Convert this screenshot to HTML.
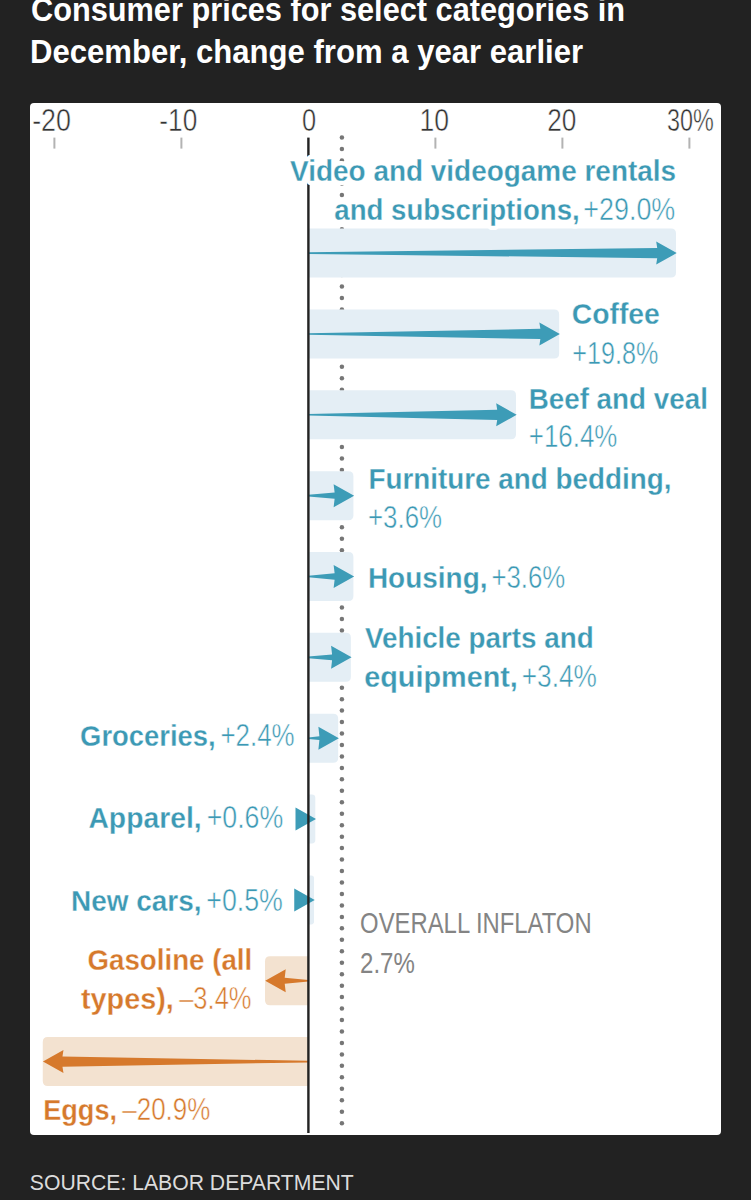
<!DOCTYPE html>
<html><head><meta charset="utf-8"><style>
html,body{margin:0;padding:0;background:#222222;width:751px;height:1200px;overflow:hidden}
svg{display:block;font-family:"Liberation Sans",sans-serif}

</style></head><body>
<svg width="751" height="1200" viewBox="0 0 751 1200">
<rect x="0" y="0" width="751" height="1200" fill="#222222"/>
<rect x="30" y="103" width="691" height="1032" rx="4" fill="#ffffff"/>
<text x="30.97" y="21.30" font-size="33.2" font-weight="700" textLength="594.09" lengthAdjust="spacingAndGlyphs" fill="#ffffff">Consumer prices for select categories in</text>
<text x="30.02" y="62.60" font-size="33.2" font-weight="700" textLength="553.11" lengthAdjust="spacingAndGlyphs" fill="#ffffff">December, change from a year earlier</text>
<text x="29.84" y="1189.80" font-size="21.8" font-weight="400" textLength="323.96" lengthAdjust="spacingAndGlyphs" fill="#dcdcdc">SOURCE: LABOR DEPARTMENT</text>
<text x="32.13" y="131.00" font-size="31.0" font-weight="400" textLength="38.82" lengthAdjust="spacingAndGlyphs" fill="#333333" stroke="#ffffff" stroke-width="0.5">-20</text>
<text x="159.35" y="131.00" font-size="31.0" font-weight="400" textLength="37.87" lengthAdjust="spacingAndGlyphs" fill="#333333" stroke="#ffffff" stroke-width="0.5">-10</text>
<text x="301.98" y="131.00" font-size="31.0" font-weight="400" textLength="14.14" lengthAdjust="spacingAndGlyphs" fill="#333333" stroke="#ffffff" stroke-width="0.5">0</text>
<text x="419.47" y="131.00" font-size="31.0" font-weight="400" textLength="29.55" lengthAdjust="spacingAndGlyphs" fill="#333333" stroke="#ffffff" stroke-width="0.5">10</text>
<text x="547.29" y="131.00" font-size="31.0" font-weight="400" textLength="29.12" lengthAdjust="spacingAndGlyphs" fill="#333333" stroke="#ffffff" stroke-width="0.5">20</text>
<text x="667.07" y="131.00" font-size="31.0" font-weight="400" textLength="46.77" lengthAdjust="spacingAndGlyphs" fill="#333333" stroke="#ffffff" stroke-width="0.5">30%</text>
<g fill="#767676"><circle cx="341.9" cy="137.60" r="2.25"/><circle cx="341.9" cy="149.06" r="2.25"/><circle cx="341.9" cy="160.52" r="2.25"/><circle cx="341.9" cy="171.98" r="2.25"/><circle cx="341.9" cy="183.44" r="2.25"/><circle cx="341.9" cy="194.90" r="2.25"/><circle cx="341.9" cy="206.36" r="2.25"/><circle cx="341.9" cy="217.82" r="2.25"/><circle cx="341.9" cy="229.28" r="2.25"/><circle cx="341.9" cy="240.74" r="2.25"/><circle cx="341.9" cy="252.20" r="2.25"/><circle cx="341.9" cy="263.66" r="2.25"/><circle cx="341.9" cy="275.12" r="2.25"/><circle cx="341.9" cy="286.58" r="2.25"/><circle cx="341.9" cy="298.04" r="2.25"/><circle cx="341.9" cy="309.50" r="2.25"/><circle cx="341.9" cy="320.96" r="2.25"/><circle cx="341.9" cy="332.42" r="2.25"/><circle cx="341.9" cy="343.88" r="2.25"/><circle cx="341.9" cy="355.34" r="2.25"/><circle cx="341.9" cy="366.80" r="2.25"/><circle cx="341.9" cy="378.26" r="2.25"/><circle cx="341.9" cy="389.72" r="2.25"/><circle cx="341.9" cy="401.18" r="2.25"/><circle cx="341.9" cy="412.64" r="2.25"/><circle cx="341.9" cy="424.10" r="2.25"/><circle cx="341.9" cy="435.56" r="2.25"/><circle cx="341.9" cy="447.02" r="2.25"/><circle cx="341.9" cy="458.48" r="2.25"/><circle cx="341.9" cy="469.94" r="2.25"/><circle cx="341.9" cy="481.40" r="2.25"/><circle cx="341.9" cy="492.86" r="2.25"/><circle cx="341.9" cy="504.32" r="2.25"/><circle cx="341.9" cy="515.78" r="2.25"/><circle cx="341.9" cy="527.24" r="2.25"/><circle cx="341.9" cy="538.70" r="2.25"/><circle cx="341.9" cy="550.16" r="2.25"/><circle cx="341.9" cy="561.62" r="2.25"/><circle cx="341.9" cy="573.08" r="2.25"/><circle cx="341.9" cy="584.54" r="2.25"/><circle cx="341.9" cy="596.00" r="2.25"/><circle cx="341.9" cy="607.46" r="2.25"/><circle cx="341.9" cy="618.92" r="2.25"/><circle cx="341.9" cy="630.38" r="2.25"/><circle cx="341.9" cy="641.84" r="2.25"/><circle cx="341.9" cy="653.30" r="2.25"/><circle cx="341.9" cy="664.76" r="2.25"/><circle cx="341.9" cy="676.22" r="2.25"/><circle cx="341.9" cy="687.68" r="2.25"/><circle cx="341.9" cy="699.14" r="2.25"/><circle cx="341.9" cy="710.60" r="2.25"/><circle cx="341.9" cy="722.06" r="2.25"/><circle cx="341.9" cy="733.52" r="2.25"/><circle cx="341.9" cy="744.98" r="2.25"/><circle cx="341.9" cy="756.44" r="2.25"/><circle cx="341.9" cy="767.90" r="2.25"/><circle cx="341.9" cy="779.36" r="2.25"/><circle cx="341.9" cy="790.82" r="2.25"/><circle cx="341.9" cy="802.28" r="2.25"/><circle cx="341.9" cy="813.74" r="2.25"/><circle cx="341.9" cy="825.20" r="2.25"/><circle cx="341.9" cy="836.66" r="2.25"/><circle cx="341.9" cy="848.12" r="2.25"/><circle cx="341.9" cy="859.58" r="2.25"/><circle cx="341.9" cy="871.04" r="2.25"/><circle cx="341.9" cy="882.50" r="2.25"/><circle cx="341.9" cy="893.96" r="2.25"/><circle cx="341.9" cy="905.42" r="2.25"/><circle cx="341.9" cy="916.88" r="2.25"/><circle cx="341.9" cy="928.34" r="2.25"/><circle cx="341.9" cy="939.80" r="2.25"/><circle cx="341.9" cy="951.26" r="2.25"/><circle cx="341.9" cy="962.72" r="2.25"/><circle cx="341.9" cy="974.18" r="2.25"/><circle cx="341.9" cy="985.64" r="2.25"/><circle cx="341.9" cy="997.10" r="2.25"/><circle cx="341.9" cy="1008.56" r="2.25"/><circle cx="341.9" cy="1020.02" r="2.25"/><circle cx="341.9" cy="1031.48" r="2.25"/><circle cx="341.9" cy="1042.94" r="2.25"/><circle cx="341.9" cy="1054.40" r="2.25"/><circle cx="341.9" cy="1065.86" r="2.25"/><circle cx="341.9" cy="1077.32" r="2.25"/><circle cx="341.9" cy="1088.78" r="2.25"/><circle cx="341.9" cy="1100.24" r="2.25"/><circle cx="341.9" cy="1111.70" r="2.25"/><circle cx="341.9" cy="1123.16" r="2.25"/></g>
<path d="M308.40,228.60 H671.00 Q676.00,228.60 676.00,233.60 V272.60 Q676.00,277.60 671.00,277.60 H308.40 Z" fill="#e4eef5"/>
<path d="M308.40,309.45 H554.16 Q559.16,309.45 559.16,314.45 V353.45 Q559.16,358.45 554.16,358.45 H308.40 Z" fill="#e4eef5"/>
<path d="M308.40,390.30 H510.98 Q515.98,390.30 515.98,395.30 V434.30 Q515.98,439.30 510.98,439.30 H308.40 Z" fill="#e4eef5"/>
<path d="M308.40,471.15 H348.42 Q353.42,471.15 353.42,476.15 V515.15 Q353.42,520.15 348.42,520.15 H308.40 Z" fill="#e4eef5"/>
<path d="M308.40,552.00 H348.42 Q353.42,552.00 353.42,557.00 V596.00 Q353.42,601.00 348.42,601.00 H308.40 Z" fill="#e4eef5"/>
<path d="M308.40,632.85 H345.88 Q350.88,632.85 350.88,637.85 V676.85 Q350.88,681.85 345.88,681.85 H308.40 Z" fill="#e4eef5"/>
<path d="M308.40,713.70 H333.18 Q338.18,713.70 338.18,718.70 V757.70 Q338.18,762.70 333.18,762.70 H308.40 Z" fill="#e4eef5"/>
<path d="M308.40,794.55 H311.86 Q315.32,794.55 315.32,798.01 V840.09 Q315.32,843.55 311.86,843.55 H308.40 Z" fill="#e4eef5"/>
<path d="M308.40,875.40 H311.23 Q314.05,875.40 314.05,878.23 V921.57 Q314.05,924.40 311.23,924.40 H308.40 Z" fill="#e4eef5"/>
<path d="M308.40,956.25 H270.02 Q265.02,956.25 265.02,961.25 V1000.25 Q265.02,1005.25 270.02,1005.25 H308.40 Z" fill="#f3e2d0"/>
<path d="M308.40,1037.10 H47.77 Q42.77,1037.10 42.77,1042.10 V1081.10 Q42.77,1086.10 47.77,1086.10 H308.40 Z" fill="#f3e2d0"/>
<path d="M308.40,252.30 L657.20,248.00 L656.20,241.60 L676.70,253.10 L656.20,264.60 L657.20,258.20 L308.40,253.90 Z" fill="#3d9cb7"/>
<path d="M308.40,333.15 L540.36,328.85 L539.36,322.45 L559.86,333.95 L539.36,345.45 L540.36,339.05 L308.40,334.75 Z" fill="#3d9cb7"/>
<path d="M308.40,414.00 L497.18,409.70 L496.18,403.30 L516.68,414.80 L496.18,426.30 L497.18,419.90 L308.40,415.60 Z" fill="#3d9cb7"/>
<path d="M308.40,494.85 L334.62,492.51 L333.62,484.15 L354.12,495.65 L333.62,507.15 L334.62,498.79 L308.40,496.45 Z" fill="#3d9cb7"/>
<path d="M308.40,575.70 L334.62,573.36 L333.62,565.00 L354.12,576.50 L333.62,588.00 L334.62,579.64 L308.40,577.30 Z" fill="#3d9cb7"/>
<path d="M308.40,656.55 L332.08,654.42 L331.08,645.85 L351.58,657.35 L331.08,668.85 L332.08,660.28 L308.40,658.15 Z" fill="#3d9cb7"/>
<path d="M308.40,737.40 L319.38,736.35 L318.38,726.70 L338.88,738.20 L318.38,749.70 L319.38,740.05 L308.40,739.00 Z" fill="#3d9cb7"/>
<path d="M295.52,807.55 L316.02,819.05 L295.52,830.55 Z" fill="#3d9cb7"/>
<path d="M294.25,888.40 L314.75,899.90 L294.25,911.40 Z" fill="#3d9cb7"/>
<path d="M308.40,979.95 L284.72,977.82 L285.72,969.25 L265.22,980.75 L285.72,992.25 L284.72,983.68 L308.40,981.55 Z" fill="#d6792c"/>
<path d="M308.40,1060.80 L62.47,1056.50 L63.47,1050.10 L42.97,1061.60 L63.47,1073.10 L62.47,1066.70 L308.40,1062.40 Z" fill="#d6792c"/>
<rect x="307.20" y="137.6" width="2.4" height="995.40" fill="#222222"/>
<rect x="53.40" y="137.6" width="2" height="11" fill="#b3b3b3"/><rect x="180.40" y="137.6" width="2" height="11" fill="#b3b3b3"/><rect x="434.40" y="137.6" width="2" height="11" fill="#b3b3b3"/><rect x="561.40" y="137.6" width="2" height="11" fill="#b3b3b3"/><rect x="688.40" y="137.6" width="2" height="11" fill="#b3b3b3"/>
<g fill="#fff" stroke="#fff" stroke-width="8" stroke-linejoin="round">
<text x="290.12" y="181.10" font-size="30.0" font-weight="700" textLength="385.98" lengthAdjust="spacingAndGlyphs">Video and videogame rentals</text>
<text x="334.37" y="220.30" font-size="30.0" font-weight="700" textLength="245.36" lengthAdjust="spacingAndGlyphs">and subscriptions,</text>
<text x="583.36" y="220.30" font-size="31.0" font-weight="400" textLength="91.91" lengthAdjust="spacingAndGlyphs">+29.0%</text>
<text x="571.67" y="324.30" font-size="30.0" font-weight="700" textLength="88.22" lengthAdjust="spacingAndGlyphs">Coffee</text>
<text x="572.34" y="363.50" font-size="31.0" font-weight="400" textLength="86.05" lengthAdjust="spacingAndGlyphs">+19.8%</text>
<text x="528.65" y="408.50" font-size="30.0" font-weight="700" textLength="179.22" lengthAdjust="spacingAndGlyphs">Beef and veal</text>
<text x="528.81" y="447.30" font-size="31.0" font-weight="400" textLength="88.52" lengthAdjust="spacingAndGlyphs">+16.4%</text>
<text x="368.45" y="489.00" font-size="30.0" font-weight="700" textLength="303.05" lengthAdjust="spacingAndGlyphs">Furniture and bedding,</text>
<text x="368.01" y="528.20" font-size="31.0" font-weight="400" textLength="74.05" lengthAdjust="spacingAndGlyphs">+3.6%</text>
<text x="367.94" y="588.40" font-size="30.0" font-weight="700" textLength="119.54" lengthAdjust="spacingAndGlyphs">Housing,</text>
<text x="491.41" y="588.40" font-size="31.0" font-weight="400" textLength="73.85" lengthAdjust="spacingAndGlyphs">+3.6%</text>
<text x="364.92" y="648.40" font-size="30.0" font-weight="700" textLength="228.90" lengthAdjust="spacingAndGlyphs">Vehicle parts and</text>
<text x="364.25" y="687.30" font-size="30.0" font-weight="700" textLength="153.58" lengthAdjust="spacingAndGlyphs">equipment,</text>
<text x="521.79" y="687.30" font-size="31.0" font-weight="400" textLength="75.08" lengthAdjust="spacingAndGlyphs">+3.4%</text>
<text x="80.10" y="746.40" font-size="30.0" font-weight="700" textLength="135.64" lengthAdjust="spacingAndGlyphs">Groceries,</text>
<text x="220.41" y="746.40" font-size="31.0" font-weight="400" textLength="74.16" lengthAdjust="spacingAndGlyphs">+2.4%</text>
<text x="88.45" y="828.30" font-size="30.0" font-weight="700" textLength="113.16" lengthAdjust="spacingAndGlyphs">Apparel,</text>
<text x="206.66" y="828.30" font-size="31.0" font-weight="400" textLength="76.63" lengthAdjust="spacingAndGlyphs">+0.6%</text>
<text x="71.04" y="910.60" font-size="30.0" font-weight="700" textLength="130.50" lengthAdjust="spacingAndGlyphs">New cars,</text>
<text x="206.26" y="910.60" font-size="31.0" font-weight="400" textLength="76.63" lengthAdjust="spacingAndGlyphs">+0.5%</text>
<text x="87.49" y="970.00" font-size="30.0" font-weight="700" textLength="164.72" lengthAdjust="spacingAndGlyphs">Gasoline (all</text>
<text x="81.01" y="1009.30" font-size="30.0" font-weight="700" textLength="92.81" lengthAdjust="spacingAndGlyphs">types),</text>
<text x="179.20" y="1009.30" font-size="31.0" font-weight="400" textLength="72.30" lengthAdjust="spacingAndGlyphs">–3.4%</text>
<text x="43.20" y="1120.00" font-size="30.0" font-weight="700" textLength="73.90" lengthAdjust="spacingAndGlyphs">Eggs,</text>
<text x="122.30" y="1120.00" font-size="31.0" font-weight="400" textLength="88.02" lengthAdjust="spacingAndGlyphs">–20.9%</text>
<text x="360.11" y="933.30" font-size="30.0" font-weight="400" textLength="231.52" lengthAdjust="spacingAndGlyphs">OVERALL INFLATON</text>
<text x="360.10" y="972.60" font-size="30.0" font-weight="400" textLength="54.75" lengthAdjust="spacingAndGlyphs">2.7%</text>
</g>
<text x="290.12" y="181.10" font-size="30.0" font-weight="700" textLength="385.98" lengthAdjust="spacingAndGlyphs" fill="#3c99b4" stroke="#ffffff" stroke-width="0.3">Video and videogame rentals</text>
<text x="334.37" y="220.30" font-size="30.0" font-weight="700" textLength="245.36" lengthAdjust="spacingAndGlyphs" fill="#3c99b4" stroke="#ffffff" stroke-width="0.3">and subscriptions,</text>
<text x="583.36" y="220.30" font-size="31.0" font-weight="400" textLength="91.91" lengthAdjust="spacingAndGlyphs" fill="#3c99b4" stroke="#ffffff" stroke-width="0.5">+29.0%</text>
<text x="571.67" y="324.30" font-size="30.0" font-weight="700" textLength="88.22" lengthAdjust="spacingAndGlyphs" fill="#3c99b4" stroke="#ffffff" stroke-width="0.3">Coffee</text>
<text x="572.34" y="363.50" font-size="31.0" font-weight="400" textLength="86.05" lengthAdjust="spacingAndGlyphs" fill="#3c99b4" stroke="#ffffff" stroke-width="0.5">+19.8%</text>
<text x="528.65" y="408.50" font-size="30.0" font-weight="700" textLength="179.22" lengthAdjust="spacingAndGlyphs" fill="#3c99b4" stroke="#ffffff" stroke-width="0.3">Beef and veal</text>
<text x="528.81" y="447.30" font-size="31.0" font-weight="400" textLength="88.52" lengthAdjust="spacingAndGlyphs" fill="#3c99b4" stroke="#ffffff" stroke-width="0.5">+16.4%</text>
<text x="368.45" y="489.00" font-size="30.0" font-weight="700" textLength="303.05" lengthAdjust="spacingAndGlyphs" fill="#3c99b4" stroke="#ffffff" stroke-width="0.3">Furniture and bedding,</text>
<text x="368.01" y="528.20" font-size="31.0" font-weight="400" textLength="74.05" lengthAdjust="spacingAndGlyphs" fill="#3c99b4" stroke="#ffffff" stroke-width="0.5">+3.6%</text>
<text x="367.94" y="588.40" font-size="30.0" font-weight="700" textLength="119.54" lengthAdjust="spacingAndGlyphs" fill="#3c99b4" stroke="#ffffff" stroke-width="0.3">Housing,</text>
<text x="491.41" y="588.40" font-size="31.0" font-weight="400" textLength="73.85" lengthAdjust="spacingAndGlyphs" fill="#3c99b4" stroke="#ffffff" stroke-width="0.5">+3.6%</text>
<text x="364.92" y="648.40" font-size="30.0" font-weight="700" textLength="228.90" lengthAdjust="spacingAndGlyphs" fill="#3c99b4" stroke="#ffffff" stroke-width="0.3">Vehicle parts and</text>
<text x="364.25" y="687.30" font-size="30.0" font-weight="700" textLength="153.58" lengthAdjust="spacingAndGlyphs" fill="#3c99b4" stroke="#ffffff" stroke-width="0.3">equipment,</text>
<text x="521.79" y="687.30" font-size="31.0" font-weight="400" textLength="75.08" lengthAdjust="spacingAndGlyphs" fill="#3c99b4" stroke="#ffffff" stroke-width="0.5">+3.4%</text>
<text x="80.10" y="746.40" font-size="30.0" font-weight="700" textLength="135.64" lengthAdjust="spacingAndGlyphs" fill="#3c99b4" stroke="#ffffff" stroke-width="0.3">Groceries,</text>
<text x="220.41" y="746.40" font-size="31.0" font-weight="400" textLength="74.16" lengthAdjust="spacingAndGlyphs" fill="#3c99b4" stroke="#ffffff" stroke-width="0.5">+2.4%</text>
<text x="88.45" y="828.30" font-size="30.0" font-weight="700" textLength="113.16" lengthAdjust="spacingAndGlyphs" fill="#3c99b4" stroke="#ffffff" stroke-width="0.3">Apparel,</text>
<text x="206.66" y="828.30" font-size="31.0" font-weight="400" textLength="76.63" lengthAdjust="spacingAndGlyphs" fill="#3c99b4" stroke="#ffffff" stroke-width="0.5">+0.6%</text>
<text x="71.04" y="910.60" font-size="30.0" font-weight="700" textLength="130.50" lengthAdjust="spacingAndGlyphs" fill="#3c99b4" stroke="#ffffff" stroke-width="0.3">New cars,</text>
<text x="206.26" y="910.60" font-size="31.0" font-weight="400" textLength="76.63" lengthAdjust="spacingAndGlyphs" fill="#3c99b4" stroke="#ffffff" stroke-width="0.5">+0.5%</text>
<text x="87.49" y="970.00" font-size="30.0" font-weight="700" textLength="164.72" lengthAdjust="spacingAndGlyphs" fill="#d6792c" stroke="#ffffff" stroke-width="0.3">Gasoline (all</text>
<text x="81.01" y="1009.30" font-size="30.0" font-weight="700" textLength="92.81" lengthAdjust="spacingAndGlyphs" fill="#d6792c" stroke="#ffffff" stroke-width="0.3">types),</text>
<text x="179.20" y="1009.30" font-size="31.0" font-weight="400" textLength="72.30" lengthAdjust="spacingAndGlyphs" fill="#d6792c" stroke="#ffffff" stroke-width="0.5">–3.4%</text>
<text x="43.20" y="1120.00" font-size="30.0" font-weight="700" textLength="73.90" lengthAdjust="spacingAndGlyphs" fill="#d6792c" stroke="#ffffff" stroke-width="0.3">Eggs,</text>
<text x="122.30" y="1120.00" font-size="31.0" font-weight="400" textLength="88.02" lengthAdjust="spacingAndGlyphs" fill="#d6792c" stroke="#ffffff" stroke-width="0.5">–20.9%</text>
<text x="360.11" y="933.30" font-size="30.0" font-weight="400" textLength="231.52" lengthAdjust="spacingAndGlyphs" fill="#848484">OVERALL INFLATON</text>
<text x="360.10" y="972.60" font-size="30.0" font-weight="400" textLength="54.75" lengthAdjust="spacingAndGlyphs" fill="#848484">2.7%</text>
</svg>
</body></html>
